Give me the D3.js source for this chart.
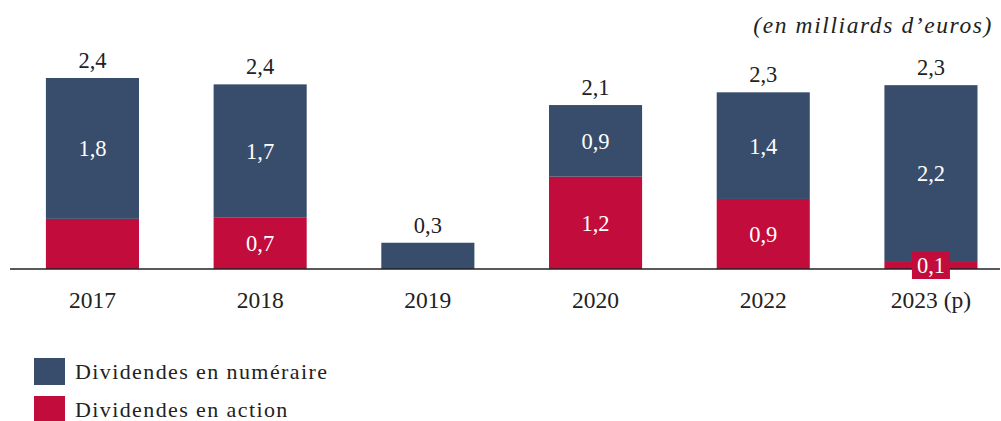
<!DOCTYPE html>
<html>
<head>
<meta charset="utf-8">
<script src="https://cdn.jsdelivr.net/npm/d3@7"></script>
<style>
  body { margin: 0; background: #fff; }
  svg text { font-family: "Liberation Serif", "DejaVu Serif", serif; }
</style>
</head>
<body>
<div id="chart"></div>
<script>
var years = ["2017", "2018", "2019", "2020", "2022", "2023 (p)"];
var cashValues = [1.77, 1.67, 0.33, 0.90, 1.34, 2.21];
var stockValues = [0.63, 0.65, 0, 1.16, 0.88, 0.10];
var totalLabels = ["2,4", "2,4", "0,3", "2,1", "2,3", "2,3"];
var cashLabels = ["1,8", "1,7", "", "0,9", "1,4", "2,2"];
var stockLabels = ["", "0,7", "", "1,2", "0,9", "0,1"];
var seriesNames = ["Dividendes en numéraire", "Dividendes en action"];
var unitLabel = "(en milliards d\u2019euros)";

var w = 1001, h = 421;
var blue = "#384d6b", red = "#c20c3b";
var valueSize = 22.5;

var data = years.map(function(y, i){
    return {year: y, cash: cashValues[i], stock: stockValues[i],
            total: totalLabels[i], cashLab: cashLabels[i], stockLab: stockLabels[i]};
});

var svg = d3.select("#chart").append("svg").attr("width", w).attr("height", h);

var xScale = d3.scaleBand().domain(years).range([8.6, 1014.8]).paddingInner(0.445).paddingOuter(0.2225);
var yScale = d3.scaleLinear().domain([0, 2.4]).range([269, 78]);

var stack = d3.stack().keys(["stock", "cash"]);
var layers = stack(data);
var colorScale = d3.scaleOrdinal().domain(["cash", "stock"]).range([blue, red]);

var bars = svg.append("g");
layers.forEach(function(layer){
    bars.selectAll("rect.l-" + layer.key)
        .data(layer)
        .enter()
        .append("rect")
        .attr("class", "l-" + layer.key)
        .attr("x", function(d){ return xScale(d.data.year); })
        .attr("y", function(d){ return yScale(d[1]); })
        .attr("width", xScale.bandwidth())
        .attr("height", function(d){ return yScale(d[0]) - yScale(d[1]); })
        .attr("fill", colorScale(layer.key));
});

// axis line
svg.append("line")
    .attr("x1", 10).attr("x2", 1000)
    .attr("y1", yScale(0)).attr("y2", yScale(0))
    .attr("stroke", "#222").attr("stroke-width", 1.3);

// year labels
var xAxis = d3.axisBottom(xScale).tickSize(0).tickPadding(0);
var axisG = svg.append("g").attr("transform", "translate(0," + yScale(0) + ")").call(xAxis);
axisG.select(".domain").remove();
axisG.selectAll("text")
    .attr("font-family", "Liberation Serif")
    .attr("font-size", 23.5)
    .attr("fill", "#222")
    .attr("y", 39)
    .attr("dy", null);

var cx = function(d){ return xScale(d.year) + xScale.bandwidth() / 2; };

// totals
svg.append("g").selectAll("text")
    .data(data)
    .enter()
    .append("text")
    .text(function(d){ return d.total; })
    .attr("x", cx)
    .attr("y", function(d){ return yScale(d.cash + d.stock) - 10; })
    .attr("text-anchor", "middle")
    .attr("font-size", valueSize)
    .attr("fill", "#222");

// cash labels
svg.append("g").selectAll("text")
    .data(data.filter(function(d){ return d.cashLab; }))
    .enter()
    .append("text")
    .text(function(d){ return d.cashLab; })
    .attr("x", cx)
    .attr("y", function(d){ return yScale(d.stock + d.cash / 2); })
    .attr("dy", "0.35em")
    .attr("text-anchor", "middle")
    .attr("font-size", valueSize)
    .attr("fill", "#fff");

// stock labels (small segment gets a red box)
var stockG = svg.append("g").selectAll("g")
    .data(data.filter(function(d){ return d.stockLab; }))
    .enter()
    .append("g");
stockG.filter(function(d){ return d.stock < 0.3; })
    .append("rect")
    .attr("x", function(d){ return cx(d) - 19; })
    .attr("y", function(d){ return yScale(d.stock / 2) - 13; })
    .attr("width", 38)
    .attr("height", 27)
    .attr("fill", red);
stockG.append("text")
    .text(function(d){ return d.stockLab; })
    .attr("x", cx)
    .attr("y", function(d){ return yScale(d.stock / 2); })
    .attr("dy", "0.35em")
    .attr("text-anchor", "middle")
    .attr("font-size", valueSize)
    .attr("fill", "#fff");

// unit
svg.append("text")
    .text(unitLabel)
    .attr("x", 993).attr("y", 33)
    .attr("text-anchor", "end")
    .attr("font-style", "italic")
    .attr("font-size", 23.5)
    .attr("letter-spacing", 1.6)
    .attr("fill", "#222");

// legend
var legend = svg.append("g").selectAll("g")
    .data(seriesNames)
    .enter()
    .append("g")
    .attr("transform", function(d, i){ return "translate(34," + (358 + i * 38) + ")"; });
legend.append("rect")
    .attr("width", 31).attr("height", 27)
    .attr("fill", function(d, i){ return i == 0 ? blue : red; });
legend.append("text")
    .text(function(d){ return d; })
    .attr("x", 41).attr("y", 21)
    .attr("font-size", 22)
    .attr("letter-spacing", 1.4)
    .attr("fill", "#222");
</script>
</body>
</html>
